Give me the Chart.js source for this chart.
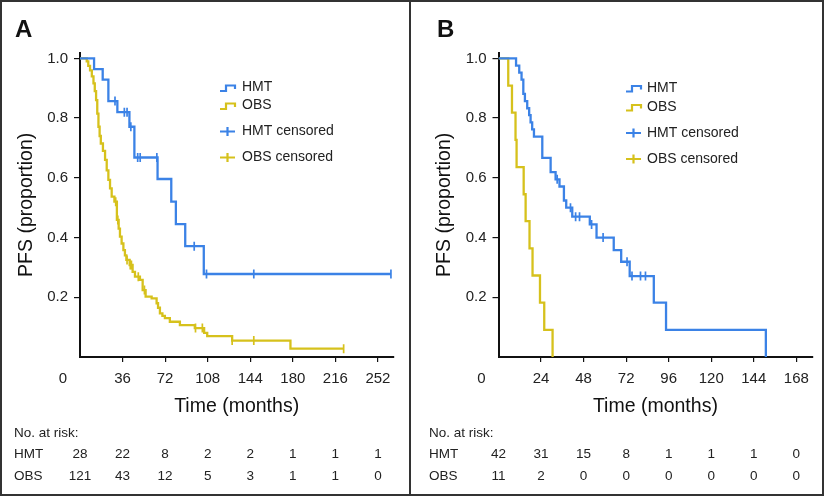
<!DOCTYPE html>
<html>
<head>
<meta charset="utf-8">
<script src="https://cdn.jsdelivr.net/npm/chart.js@4.4.0/dist/chart.umd.min.js"></script>
<style>
  body { margin: 0; background: #fff; }
  #wrap { position: relative; width: 828px; height: 497px; }
  .panel { position: absolute; top: 0; width: 414px; height: 497px; }
  #frame { position: absolute; left: 0; top: 0; width: 820px; height: 492px; border: 2px solid #333; }
  #divider { position: absolute; left: 409px; top: 0; width: 2px; height: 496px; background: #333; }
</style>
</head>
<body>
<div id="wrap">
  <div id="frame"></div>
  <div id="divider"></div>
  <div class="panel" style="left:0"><canvas id="chartA" width="414" height="497"></canvas></div>
  <div class="panel" style="left:414px"><canvas id="chartB" width="414" height="497"></canvas></div>
</div>
<script>
// Panel A
const hmtA_time = [0, 11.9, 19.2, 24, 31.6, 41.8, 46, 65.6, 77.2, 81.1, 89, 104.7, 263]
const hmtA_surv = [1, 0.964, 0.929, 0.857, 0.82, 0.771, 0.668, 0.596, 0.52, 0.445, 0.371, 0.278, 0.278]
const hmtA_cens = [29.6, 37.5, 39.8, 43, 48.8, 50.9, 65, 96.6, 107, 147, 263]
const obsA_time = [0, 5.7, 7, 8.5, 10, 11.4, 12.5, 13.6, 14.6, 15.6, 16.6, 17.6, 19.4, 21.2, 22.6, 24, 25.4, 26.8, 29.1,
  31.2, 32.7, 33.8, 35.2, 36.7, 38, 39.2, 42, 44.5, 46.5, 50.7, 53, 55.5, 60.6, 64.8, 66, 67.6, 69.7, 71.8, 76, 84.5,
  97.1, 105, 107.6, 128.7, 178, 223]
const obsA_surv = [1, 0.99, 0.975, 0.96, 0.94, 0.916, 0.89, 0.86, 0.815, 0.771, 0.74, 0.715, 0.69, 0.66, 0.625, 0.593, 0.565, 0.537, 0.52,
  0.459, 0.43, 0.403, 0.38, 0.358, 0.34, 0.325, 0.308, 0.285, 0.269, 0.258, 0.224, 0.202, 0.196, 0.18, 0.165, 0.146, 0.138, 0.13, 0.118, 0.107,
  0.097, 0.081, 0.07, 0.055, 0.028, 0.028]
const obsA_cens = [30.2, 32, 39.8, 42.5, 43.5, 49.3, 54.5, 97.7, 103.5, 128.7, 147, 223]
const riskTimesA = [0, 36, 72, 108, 144, 180, 216, 252]
const hmtRiskA = [28, 22, 8, 2, 2, 1, 1, 1]
const obsRiskA = [121, 43, 12, 5, 3, 1, 1, 0]

// Panel B
const hmtB_time = [0, 9.9, 11.7, 13, 14, 14.9, 16.2, 17.3, 18.1, 19, 20, 24.7, 29.4, 32.2, 34.4, 36.9, 38.2, 41.6, 51.5, 55.3, 65, 69.2, 74, 87.6, 94.5, 150.8]
const hmtB_surv = [1, 0.976, 0.952, 0.929, 0.881, 0.857, 0.833, 0.81, 0.786, 0.762, 0.738, 0.667, 0.619, 0.595, 0.571, 0.524, 0.5, 0.47, 0.444, 0.4, 0.358, 0.319, 0.271, 0.182, 0.091, 0]
const hmtB_cens = [33.1, 40.6, 43.5, 45.7, 52.5, 59, 72.5, 75.3, 80.1, 82.9]
const obsB_time = [0, 5.5, 7.6, 9.6, 10.2, 14.2, 15.3, 17.5, 19.2, 23.4, 25.8, 30.5]
const obsB_surv = [1, 0.909, 0.818, 0.727, 0.636, 0.545, 0.455, 0.364, 0.273, 0.182, 0.091, 0]
const obsB_cens = []
const riskTimesB = [0, 24, 48, 72, 96, 120, 144, 168]
const hmtRiskB = [42, 31, 15, 8, 1, 1, 1, 0]
const obsRiskB = [11, 2, 0, 0, 0, 0, 0, 0]

const BLUE = '#3b82e6'
const GOLD = '#d6c11c'
const INK = '#222'
const FONT = 'Liberation Sans, Arial, Helvetica, sans-serif'

function kmPoints(times, surv) {
  return times.map((t, i) => ({ x: t, y: surv[i] }))
}

// censor marks sit on the curve at the time they happen
function censPoints(cens, times, surv) {
  return cens.map((t) => {
    let v = surv[0]
    for (let i = 0; i < times.length; i++) if (times[i] <= t) v = surv[i]
    return { x: t, y: v }
  })
}

// no tick mark at the origin
const tickColor = (c) => (c.tick && c.tick.value === 0 ? 'rgba(0,0,0,0)' : '#111')

const kmExtras = {
  id: 'kmExtras',
  afterDraw(chart, args, o) {
    const ctx = chart.ctx
    const xs = chart.scales.x
    ctx.save()
    ctx.fillStyle = '#111'
    ctx.font = 'bold 24px ' + FONT
    ctx.textBaseline = 'alphabetic'
    ctx.textAlign = 'left'
    ctx.fillText(o.letter, o.letterX, 37)

    // zero label sits left of the y axis
    ctx.fillStyle = INK
    ctx.font = '15px ' + FONT
    ctx.textAlign = 'center'
    ctx.textBaseline = 'middle'
    ctx.fillText('0', xs.getPixelForValue(0) - 17, 379)

    // legend
    ctx.font = '14px ' + FONT
    ctx.textAlign = 'left'
    const items = [
      { label: 'HMT', color: BLUE, kind: 'step' },
      { label: 'OBS', color: GOLD, kind: 'step' },
      { label: 'HMT censored', color: BLUE, kind: 'cens' },
      { label: 'OBS censored', color: GOLD, kind: 'cens' },
    ]
    items.forEach((it, i) => {
      const x = o.legendX
      const y = o.legendY[i]
      ctx.strokeStyle = it.color
      ctx.lineWidth = 2.2
      ctx.beginPath()
      if (it.kind === 'step') {
        ctx.moveTo(x, y + 3.5)
        ctx.lineTo(x + 6, y + 3.5)
        ctx.lineTo(x + 6, y - 2)
        ctx.lineTo(x + 15, y - 2)
        ctx.lineTo(x + 15, y + 1.5)
      } else {
        ctx.moveTo(x, y)
        ctx.lineTo(x + 15, y)
        ctx.moveTo(x + 7.5, y - 4.5)
        ctx.lineTo(x + 7.5, y + 4.5)
      }
      ctx.stroke()
      ctx.fillStyle = INK
      ctx.fillText(it.label, o.textX, y)
    })

    // number at risk table
    ctx.font = '13.5px ' + FONT
    ctx.fillStyle = INK
    ctx.textAlign = 'left'
    ctx.fillText('No. at risk:', o.riskX, 433)
    ctx.fillText('HMT', o.riskX, 454)
    ctx.fillText('OBS', o.riskX, 476)
    ctx.textAlign = 'center'
    o.riskTimes.forEach((t, i) => {
      const px = xs.getPixelForValue(t)
      ctx.fillText(String(o.hmtRisk[i]), px, 454)
      ctx.fillText(String(o.obsRisk[i]), px, 476)
    })
    ctx.restore()
  },
}

function makePanel(id, p) {
  return new Chart(document.getElementById(id), {
    type: 'line',
    data: {
      datasets: [
        { label: 'HMT', data: kmPoints(p.hmtTime, p.hmtSurv), borderColor: BLUE, borderWidth: 2.3, stepped: 'before', pointRadius: 0, fill: false },
        { label: 'OBS', data: kmPoints(p.obsTime, p.obsSurv), borderColor: GOLD, borderWidth: 2.3, stepped: 'before', pointRadius: 0, fill: false },
        { label: 'HMT censored', data: censPoints(p.hmtCens, p.hmtTime, p.hmtSurv), showLine: false, pointStyle: 'line', rotation: 90, pointRadius: 4.5, borderColor: BLUE, borderWidth: 1.7 },
        { label: 'OBS censored', data: censPoints(p.obsCens, p.obsTime, p.obsSurv), showLine: false, pointStyle: 'line', rotation: 90, pointRadius: 4.5, borderColor: GOLD, borderWidth: 1.7 },
      ],
    },
    options: {
      responsive: false,
      animation: false,
      events: [],
      layout: { padding: { left: 0, top: 52.7, right: p.padRight, bottom: 0 } },
      scales: {
        x: {
          type: 'linear',
          min: 0,
          max: p.xMax,
          afterFit: (s) => { s.height = 140 },
          border: { display: true, color: '#111', width: 2 },
          grid: { drawOnChartArea: false, drawTicks: true, tickLength: 5, tickColor: tickColor, lineWidth: 1.2 },
          ticks: {
            stepSize: p.xStep,
            includeBounds: false,
            padding: 8,
            color: INK,
            font: { family: FONT, size: 15 },
            maxRotation: 0,
            callback: (v) => (v === 0 ? '' : v),
          },
          title: { display: true, text: 'Time (months)', color: '#111', font: { family: FONT, size: 19.5 }, padding: { top: 0, bottom: 78.3 } },
        },
        y: {
          min: 0,
          max: 1.019,
          afterFit: (s) => { s.width = p.yWidth },
          border: { display: true, color: '#111', width: 2 },
          grid: { drawOnChartArea: false, drawTicks: true, tickLength: 6, tickColor: tickColor, lineWidth: 1.2 },
          ticks: {
            stepSize: 0.2,
            includeBounds: false,
            padding: 6,
            color: INK,
            font: { family: FONT, size: 15 },
            callback: (v) => (v === 0 ? '' : v.toFixed(1)),
          },
          title: { display: true, text: 'PFS (proportion)', color: '#111', font: { family: FONT, size: 19.5 }, padding: { top: p.yTitlePad, bottom: 0 } },
        },
      },
      plugins: {
        legend: { display: false },
        tooltip: { enabled: false },
        kmExtras: {
          letter: p.letter,
          letterX: p.letterX,
          legendX: p.legendX,
          textX: p.textX,
          legendY: p.legendY,
          riskX: p.riskX,
          riskTimes: p.riskTimes,
          hmtRisk: p.hmtRisk,
          obsRisk: p.obsRisk,
        },
      },
    },
    plugins: [kmExtras],
  })
}

makePanel('chartA', {
  hmtTime: hmtA_time, hmtSurv: hmtA_surv, hmtCens: hmtA_cens,
  obsTime: obsA_time, obsSurv: obsA_surv, obsCens: obsA_cens,
  riskTimes: riskTimesA, hmtRisk: hmtRiskA, obsRisk: obsRiskA,
  xMax: 265, xStep: 36, yWidth: 80, padRight: 20.7, yTitlePad: 14.8,
  letter: 'A', letterX: 15, legendX: 220, textX: 242, legendY: [87.5, 105.5, 131.5, 157.5], riskX: 14,
})

makePanel('chartB', {
  hmtTime: hmtB_time, hmtSurv: hmtB_surv, hmtCens: hmtB_cens,
  obsTime: obsB_time, obsSurv: obsB_surv, obsCens: obsB_cens,
  riskTimes: riskTimesB, hmtRisk: hmtRiskB, obsRisk: obsRiskB,
  xMax: 177, xStep: 24, yWidth: 84.5, padRight: 15.7, yTitlePad: 19.3,
  letter: 'B', letterX: 23, legendX: 212, textX: 233, legendY: [88, 107, 133, 159], riskX: 15,
})
</script>
</body>
</html>
